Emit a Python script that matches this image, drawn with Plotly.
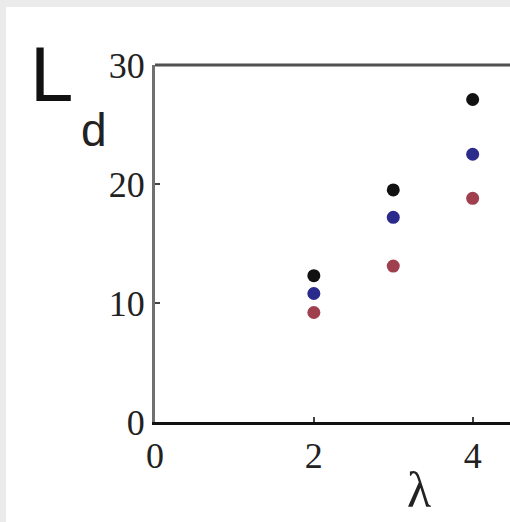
import plotly.graph_objects as go

lam = [2, 3, 4]
L_black = [12.3, 19.5, 27.1]
L_blue = [10.8, 17.2, 22.5]
L_red = [9.2, 13.1, 18.8]
x_ticks = [0, 2, 4]
y_ticks = [0, 10, 20, 30]

OX, OY = 6, 7                      # page offset of the white figure
W, H = 510 - OX, 522 - OY
ML, MR, MT, MB = 155 - OX, 0, 65 - OY, 522 - 422
PW, PH = W - ML - MR, H - MT - MB


def px(x):
    return (x - OX - ML) / PW


def py(y):
    return (H - MB - (y - OY)) / PH


fig = go.Figure()
for vals, col in [(L_black, "#111111"), (L_blue, "#2b2b8c"), (L_red, "#a0404e")]:
    fig.add_trace(go.Scatter(x=lam, y=vals, mode="markers",
                             marker=dict(size=13, color=col, line=dict(width=0)),
                             showlegend=False))

fig.update_layout(
    width=W, height=H,
    margin=dict(l=ML, r=MR, t=MT, b=MB),
    paper_bgcolor="white",
    plot_bgcolor="white",
    xaxis=dict(range=[0, 4.47], tickvals=x_ticks, showgrid=False, zeroline=False,
               showline=True, linecolor="#111111", linewidth=3,
               ticks="inside", ticklen=5, tickcolor="#444", tickwidth=2,
               tickfont=dict(family="Liberation Serif", size=36, color="#222")),
    yaxis=dict(range=[0, 30], tickvals=y_ticks, showgrid=False, zeroline=False,
               showline=True, linecolor="#707070", linewidth=3,
               ticks="inside", ticklen=5, tickcolor="#444", tickwidth=2,
               tickfont=dict(family="Liberation Serif", size=36, color="#222")),
    shapes=[
        dict(type="line", xref="paper", yref="paper",
             x0=0, x1=1, y0=1, y1=1, line=dict(color="#505050", width=3)),
    ],
    annotations=[
        dict(text="L", xref="paper", yref="paper", x=px(51), y=py(74),
             xanchor="center", yanchor="middle", showarrow=False,
             font=dict(family="Liberation Sans", size=78, color="#111")),
        dict(text="d", xref="paper", yref="paper", x=px(94), y=py(130),
             xanchor="center", yanchor="middle", showarrow=False,
             font=dict(family="Liberation Sans", size=46, color="#222")),
        dict(text="λ", xref="paper", yref="paper", x=px(419), y=py(490),
             xanchor="center", yanchor="middle", showarrow=False,
             font=dict(family="Liberation Serif", size=50, color="#222")),
    ],
)

fig.write_html(
    "out.html",
    post_script=("document.body.style.margin='7px 0 0 6px';"
                 "document.body.style.background='#ebebeb';"
                 "document.body.style.overflow='hidden';"),
)
